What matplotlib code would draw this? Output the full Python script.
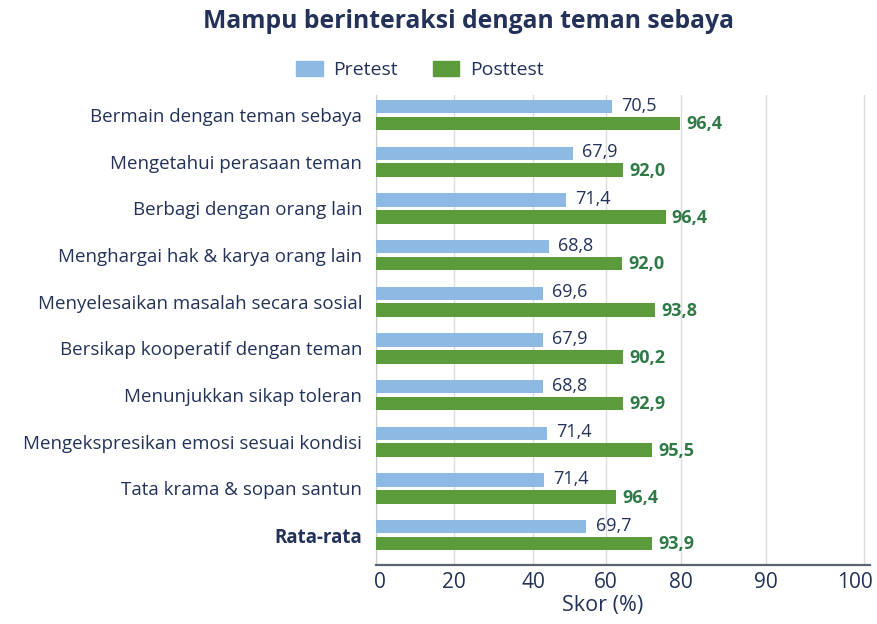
import matplotlib.pyplot as plt
from matplotlib.patches import Patch
from matplotlib.transforms import ScaledTranslation
import numpy as np

plt.rcParams['font.family'] = ['Open Sans', 'DejaVu Sans']

categories = [
    "Bermain dengan teman sebaya",
    "Mengetahui perasaan teman",
    "Berbagi dengan orang lain",
    "Menghargai hak & karya orang lain",
    "Menyelesaikan masalah secara sosial",
    "Bersikap kooperatif dengan teman",
    "Menunjukkan sikap toleran",
    "Mengekspresikan emosi sesuai kondisi",
    "Tata krama & sopan santun",
    "Rata-rata",
]
# printed values
pretest = [70.5, 67.9, 71.4, 68.8, 69.6, 67.9, 68.8, 71.4, 71.4, 69.7]
posttest = [96.4, 92.0, 96.4, 92.0, 93.8, 90.2, 92.9, 95.5, 96.4, 93.9]
# bar ends as drawn, read against the printed axis
pretest_bar = [61.6, 50.8, 49.1, 44.2, 42.7, 42.7, 42.6, 43.8, 43.0, 54.6]
posttest_bar = [79.9, 64.6, 75.9, 64.3, 73.0, 64.6, 64.6, 72.2, 62.6, 72.4]

tick_vals = [0, 20, 40, 60, 80, 90, 100]

# the printed axis is not evenly spaced: gridline spacing as drawn
scale_vals = [-10, 0, 20, 40, 60, 80, 90, 100, 110]
scale_pos = [-78.3, 0, 78.3, 157.3, 230.3, 305, 389.7, 488.3, 586.9]

def fwd(v):
    return np.interp(v, scale_vals, scale_pos)

def inv(p):
    return np.interp(p, scale_pos, scale_vals)

navy = "#24325a"
blue = "#8db9e3"
green = "#5c9b3c"
green_txt = "#2f7a47"

fig = plt.figure(figsize=(8.77, 6.24), dpi=100)
ax = fig.add_axes([376 / 877, 1 - 565 / 624, 494 / 877, 470 / 624])
ax.set_xscale('function', functions=(fwd, inv))

y = np.arange(len(categories))
h = 0.29
off = 0.18
ax.barh(y - off, pretest_bar, height=h, color=blue, zorder=3)
ax.barh(y + off, posttest_bar, height=h, color=green, zorder=3)

for i in range(len(categories)):
    ax.annotate(f"{pretest[i]:.1f}".replace(".", ","), (pretest_bar[i], y[i] - off - 0.02),
                xytext=(6.5, 0), textcoords="offset points", va="center", ha="left",
                fontsize=13, color=navy)
    ax.annotate(f"{posttest[i]:.1f}".replace(".", ","), (posttest_bar[i], y[i] + off + 0.02),
                xytext=(4.5, 0), textcoords="offset points", va="center", ha="left",
                fontsize=13, color=green_txt, fontweight="bold")

ax.set_xlim(0, 100.6)
ax.set_ylim(9.64, -0.43)
ax.set_xticks(tick_vals)
ax.set_xticklabels([str(v) for v in tick_vals])
ax.set_yticks(y)
ax.set_yticklabels(categories)
for lbl in ax.get_yticklabels():
    if lbl.get_text() == "Rata-rata":
        lbl.set_fontweight("bold")
ax.tick_params(axis="y", length=0, pad=10, labelsize=13.5, labelcolor=navy)
ax.tick_params(axis="x", length=0, pad=5, labelsize=15, labelcolor=navy)
xt = ax.get_xticklabels()
xt[0].set_transform(xt[0].get_transform() + ScaledTranslation(4 / 100, 0, fig.dpi_scale_trans))
xt[-1].set_transform(xt[-1].get_transform() + ScaledTranslation(-9 / 100, 0, fig.dpi_scale_trans))
ax.xaxis.grid(True, color="#dcdcdc", lw=1, zorder=0)
ax.set_axisbelow(True)
for s in ["top", "right"]:
    ax.spines[s].set_visible(False)
ax.spines["left"].set_color("#c9ced6")
ax.spines["bottom"].set_color("#5b6475")
ax.spines["bottom"].set_linewidth(1.6)

fig.text(603 / 877, 1 - 606 / 624, "Skor (%)", ha="center", va="center",
         fontsize=15.5, color=navy)

fig.text(469 / 877, 1 - 22 / 624, "Mampu berinteraksi dengan teman sebaya",
         ha="center", va="center", fontsize=17.8, fontweight="bold", color=navy)

handles = [Patch(color=blue, label="Pretest"), Patch(color=green, label="Posttest")]
fig.legend(handles=handles, loc="center", bbox_to_anchor=(420 / 877, 1 - 70 / 624),
           ncol=2, frameon=False, fontsize=14, handlelength=1.35, handleheight=0.85,
           handletextpad=0.55, columnspacing=1.8, labelcolor=navy)

fig.savefig("out.png", dpi=100)
